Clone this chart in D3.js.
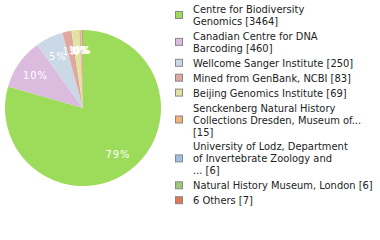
<!DOCTYPE html>
<html><head><meta charset="utf-8">
<script src="https://cdn.jsdelivr.net/npm/d3@7"></script>
<style>body{margin:0;background:#fff}svg{display:block}</style>
</head><body>
<svg id="c" width="380" height="240"></svg>
<script>
const categories = [
  ["Centre for Biodiversity", "Genomics [3464]"],
  ["Canadian Centre for DNA", "Barcoding [460]"],
  ["Wellcome Sanger Institute [250]"],
  ["Mined from GenBank, NCBI [83]"],
  ["Beijing Genomics Institute [69]"],
  ["Senckenberg Natural History", "Collections Dresden, Museum of...", "[15]"],
  ["University of Lodz, Department", "of Invertebrate Zoology and", "... [6]"],
  ["Natural History Museum, London [6]"],
  ["6 Others [7]"]
];
const values = [3464, 460, 250, 83, 69, 15, 6, 6, 7];
const colors = ["#9ddb5a", "#dbbbde", "#cbd9e6", "#e0a89e", "#e0e3a1", "#f2b27a", "#a0bfe0", "#9ec97b", "#e0775a"];

const svg = d3.select("#c");
const font = "'DejaVu Sans Condensed', 'DejaVu Sans', sans-serif";
const cx = 83, cy = 108, R = 78, rl = 58;
const total = d3.sum(values);
const pie = d3.pie().sort(null).startAngle(0).endAngle(2*Math.PI)(values);
const arc = d3.arc().innerRadius(0).outerRadius(R);
const g = svg.append("g").attr("transform", `translate(${cx},${cy})`);
g.selectAll("path").data(pie).join("path")
  .attr("d", arc).attr("fill", (d,i) => colors[i]);
const la = d3.arc().innerRadius(rl).outerRadius(rl);
g.selectAll("text").data(pie).join("text")
  .attr("transform", d => `translate(${la.centroid(d)})`)
  .attr("text-anchor", "middle").attr("dy", "0.35em")
  .attr("fill", "#fff").attr("font-family", font).attr("font-size", 11)
  .attr("letter-spacing", 1)
  .text(d => Math.floor(d.value / total * 100) + "%");

// legend
const lineH = 12, gap = 2.9;
let y = 3;
const lg = svg.append("g");
categories.forEach((lines, i) => {
  const h = lines.length * lineH;
  const item = lg.append("g");
  item.append("rect").attr("x", 175.5).attr("y", y + h/2 - 3.5).attr("width", 7).attr("height", 7)
    .attr("fill", colors[i]).attr("stroke", "#888").attr("stroke-width", 1);
  lines.forEach((t, j) => {
    item.append("text").attr("x", 193).attr("y", y + j*lineH + 10)
      .attr("font-family", font).attr("font-size", 11).attr("fill", "#222").text(t);
  });
  y += h + gap;
});
</script>
</body></html>
